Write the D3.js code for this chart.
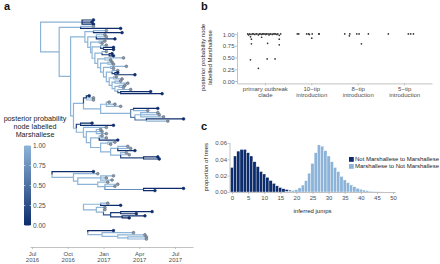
<!DOCTYPE html>
<html><head><meta charset="utf-8">
<script src="https://cdn.jsdelivr.net/npm/d3@7"></script>
<style>body{margin:0;background:#fff}svg{display:block}</style>
</head><body><svg id="c" width="440" height="264"></svg>
<script>
// ---------- DATA ----------
// Trees: node = [date (decimal year), posterior prob. Marshallese, ...children]; tip = [date, prob]
const cladeC =
[2016.87,1,
 [2016.93,1,[2017.02,1],[2017.13,0]],
 [2016.89,1,
  [2016.95,1,[2017.01,1],[2017.02,1],[2017.08,0]],
  [2016.91,1,
   [2016.97,1,[2017.01,1],[2016.99,1]],
   [2016.92,1,
    [2016.98,1,[2017.02,1],[2017.00,0.3,[2017.07,0],[2017.07,0]]],
    [2016.94,1,
     [2016.99,1,[2017.02,1],[2017.04,0.1,[2017.06,0],[2017.07,0]]],
     [2016.96,1,
      [2017.01,1,[2017.14,1],[2017.05,1]],
      [2016.98,1,
       [2017.03,1,[2017.06,1],[2017.07,1]],
       [2017.00,1,
        [2017.05,1,[2017.16,1],[2017.07,1]],
        [2017.02,1,
         [2017.06,1,[2017.10,1],[2017.08,0.2,[2017.10,0],[2017.22,0]]],
         [2017.04,1,
          [2017.07,1,[2017.09,1],[2017.13,1]],
          [2017.06,1,
           [2017.08,1,[2017.12,1],[2017.17,1]],
           [2017.08,1,
            [2017.11,1,[2017.15,1],[2017.14,1]],
            [2017.10,1,[2017.19,1],[2017.12,0.3,[2017.33,0],[2017.41,0]]]
           ]
          ]
         ]
        ]
       ]
      ]
     ]
    ]
   ]
  ]
 ]
];
const cladeD = [2016.86,1,
  [2016.88,0.2,[2016.90,0],[2016.93,1],[2016.93,1]],
  [2016.98,1,
    [2017.02,1,[2017.04,1],[2017.08,1],[2017.12,1]],
    [2017.19,1,
      [2017.21,0.6,[2017.38,0],[2017.31,1]],
      [2017.22,0.6,
        [2017.26,1,[2017.38,1],[2017.39,1],[2017.42,1]],
        [2017.30,0.5,[2017.56,0],[2017.45,1]]
      ]
    ]
  ]
];
const cladeE = [2016.81,1,
  [2016.84,0.1,[2016.92,0],[2017.07,0]],
  [2016.86,1,[2017.02,1],
    [2016.88,1,
      [2016.95,1,[2016.98,1],[2016.99,1],[2017.02,1]],
      [2016.91,1,
        [2016.97,1,[2016.99,1],[2017.02,1],[2017.10,0]],
        [2016.98,1,
          [2017.03,1,[2017.08,1],[2017.05,1]],
          [2017.05,1,
            [2017.10,1,[2017.17,1],[2017.19,1],[2017.22,0]],
            [2017.12,1,[2017.16,1],[2017.18,1],[2017.28,0.2,[2017.38,0],[2017.39,0]]]
          ]
        ]
      ]
    ]
  ]
];
const mainTree = [2016.56,1,
  [2016.85,1,[2016.93,0],[2016.92,0],[2016.93,0]],
  [2016.69,1,
    [2016.84,1,[2016.93,1],[2017.12,0]],
    [2016.77,1, cladeC, [2016.79,1, cladeD, cladeE]]
  ]
];
const tree10 = [2016.64,1,
  [2016.93,0],
  [2016.79,1,
    [2016.96,1],
    [2016.82,1,
      [2016.98,1,[2017.07,1],[2017.02,1],[2017.06,1]],
      [2016.96,1,
        [2017.03,1],
        [2017.01,1,[2017.10,1],[2017.08,1],[2017.28,0.7,[2017.56,0],[2017.36,0]]]
      ]
    ]
  ]
];
const tree8 = [2016.86,1,
  [2016.98,1,[2017.03,1],[2017.12,0]],
  [2016.95,1,[2017.01,1],
    [2017.00,1,[2017.01,1],
      [2017.05,0.3,
        [2017.12,0.1,[2017.34,0],[2017.23,0]],
        [2017.13,0.1,[2017.29,0],[2017.18,0]]
      ]
    ]
  ]
];
const tree5 = [2016.89,1,
  [2017.07,0],
  [2016.99,1,[2017.21,1],
    [2017.10,1,[2017.29,1],
      [2017.17,1,[2017.30,1],[2017.30,1]]
    ]
  ]
];

const dateTicks = [2016.5, 2016.75, 2017.0, 2017.25, 2017.5];
const dateTickLabels = [["Jul","2016"],["Oct","2016"],["Jan","2017"],["Apr","2017"],["Jul","2017"]];
const probTicks = [0, 0.25, 0.5, 0.75, 1];

// Panel b
const bCategories = ["primary outbreak clade","10−tip introduction","8−tip introduction","5−tip introduction"];
const bCatLabels = [["primary outbreak","clade"],["10−tip","introduction"],["8−tip","introduction"],["5−tip","introduction"]];
const primaryJitter = [-0.37,-0.35,-0.33,-0.30,-0.27,-0.25,-0.22,-0.19,-0.17,-0.14,-0.12,-0.10,-0.07,-0.05,-0.03,0.00,0.02,0.04,0.07,0.09,0.11,0.13,0.16,0.18,0.21,0.23,0.26,0.28,0.31,0.34,
  -0.31,-0.29,-0.29,-0.31,-0.14,-0.07,0.06,0.05,0.22,0.31,0.31];
const primaryProb = [1.00,0.98,1.00,0.99,1.00,1.00,0.99,1.00,1.00,0.98,1.00,1.00,0.99,1.00,1.00,1.00,0.99,1.00,1.00,0.98,1.00,1.00,0.99,1.00,1.00,1.00,0.99,1.00,0.97,1.00,
  0.94,0.89,0.79,0.45,0.27,0.93,0.80,0.47,0.47,0.89,0.77];
const intro10Jitter = [-0.30,-0.27,-0.10,-0.06,-0.04,0.02,0.01,0.16,0.17];
const intro10Prob = [1,1,1,1,0.99,1,0.91,1,1];
const intro8Jitter = [-0.28,-0.18,-0.17,-0.02,0.03,0.08,0.23];
const intro8Prob = [1,0.96,1,1,1,0.79,1];
const intro5Jitter = [-0.34,0.09,0.14,0.20];
const intro5Prob = [1,1,1,1];

// Panel c
const jumpsNotToM = [0,1,2,3,4,5,6,7,8,9,10,11,12,13,14,15,16,17,18,19,20,21,22];
const propNotToM = [0.030,0.044,0.050,0.052,0.052,0.048,0.044,0.037,0.031,0.025,0.022,0.018,0.014,0.0105,0.0075,0.0055,0.004,0.003,0.0022,0.0015,0.001,0.0006,0.0003];
const jumpsMToNot = [17,18,19,20,21,22,23,24,25,26,27,28,29,30,31,32,33,34,35,36,37,38,39,40,41,42,43,44,45,46,47];
const propMToNot = [0.0004,0.0008,0.0015,0.0028,0.0050,0.0085,0.0138,0.023,0.035,0.048,0.0575,0.056,0.0505,0.044,0.037,0.030,0.025,0.019,0.0147,0.0114,0.0086,0.0065,0.0045,0.0033,0.0024,0.0016,0.001,0.0007,0.0004,0.0002,0.0001];
const jumpTicks = [0,5,10,15,20,25,30,35,40,45,50];
const propTicks = [0,0.02,0.04,0.06];
const legendLabels = ["Not Marshallese to Marshallese","Marshallese to Not Marshallese"];

// ---------- STYLE ----------
const FONT = "'Liberation Sans', Arial, Helvetica, sans-serif";
const colLight = "#8db4d8", colDark = "#0d2c6b";
const tickCol = "#4d4d4d", axisCol = "#b3b3b3", titleCol = "#222";
const svg = d3.select("#c").style("font-family", FONT);
const pCol = d3.scaleLinear().domain([0,1]).range([colDark, colLight]).interpolate(d3.interpolateRgb);

function styleAxis(g, fs){
  g.attr("font-family", FONT).attr("font-size", fs);
  g.select(".domain").attr("stroke", axisCol).attr("stroke-width", 0.8);
  g.selectAll(".tick line").attr("stroke", axisCol).attr("stroke-width", 0.8);
  g.selectAll(".tick text").attr("fill", tickCol);
}

// ---------- PANEL A ----------
const xT = d3.scaleLinear().domain([2016.486, 2017.626]).range([30, 193]);
let slot = 0;
const roots = [mainTree, tree10, tree8, tree5].map(t => {
  const r = d3.hierarchy(t, d => d.length > 2 ? d.slice(2) : null);
  r.leaves().forEach(l => { l.slot = slot++; });
  slot += 5;
  return r;
});
const yT = d3.scaleLinear().domain([0, slot - 6]).range([20, 239]);
const gTree = svg.append("g");
const allLinks = [], allTips = [];
roots.forEach(r => {
  r.eachAfter(n => {
    n.px = xT(n.data[0]);
    n.py = n.children ? d3.mean(n.children, c => c.py) : yT(n.slot);
  });
  r.descendants().forEach(n => { if (n.parent) allLinks.push(n); });
  r.leaves().forEach(l => allTips.push(l));
});
allLinks.sort((a,b) => b.data[1] - a.data[1]);
gTree.selectAll("path.br").data(allLinks).join("path").attr("class","br")
  .attr("d", n => `M${n.parent.px},${n.parent.py}V${n.py}H${n.px}`)
  .attr("fill","none").attr("stroke", n => pCol(n.data[1])).attr("stroke-width", 1.2);
gTree.selectAll("circle.tip").data(allTips).join("circle").attr("class","tip")
  .attr("cx", n => n.px).attr("cy", n => n.py).attr("r", 1.4)
  .attr("fill", n => n.data[1] < 0.5 ? colDark : "#8e99a8")
  .attr("stroke", n => n.data[1] < 0.5 ? colDark : "#4f5b6b").attr("stroke-width", 0.5);

const axA = svg.append("g").attr("transform","translate(0,247)")
  .call(d3.axisBottom(xT).tickValues(dateTicks).tickSize(2).tickSizeOuter(0).tickFormat(""));
styleAxis(axA, 6);
axA.selectAll(".tick").each(function(d,i){
  const t = d3.select(this).append("text").attr("fill", tickCol).attr("text-anchor","middle").attr("font-size",6);
  t.append("tspan").attr("x",0).attr("y",8.5).text(dateTickLabels[i][0]);
  t.append("tspan").attr("x",0).attr("y",15).text(dateTickLabels[i][1]);
});

// colour bar
const cb = d3.scaleLinear().domain([0,1]).range([225.5,145.5]);
const grad = svg.append("defs").append("linearGradient").attr("id","cbg")
  .attr("x1",0).attr("y1",1).attr("x2",0).attr("y2",0);
grad.selectAll("stop").data(probTicks).join("stop")
  .attr("offset", d => d).attr("stop-color", d => pCol(d));
svg.append("rect").attr("x",24).attr("y",cb(1)).attr("width",7).attr("height",cb(0)-cb(1)).attr("fill","url(#cbg)");
const cbG = svg.append("g");
cbG.selectAll("line.l").data(probTicks).join("line").attr("class","l")
  .attr("x1",24).attr("x2",25.4).attr("y1",d=>cb(d)).attr("y2",d=>cb(d)).attr("stroke","#fff").attr("stroke-width",0.6);
cbG.selectAll("line.r").data(probTicks).join("line").attr("class","r")
  .attr("x1",29.6).attr("x2",31).attr("y1",d=>cb(d)).attr("y2",d=>cb(d)).attr("stroke","#fff").attr("stroke-width",0.6);
cbG.selectAll("text").data(probTicks).join("text")
  .attr("x",33).attr("y",d=>cb(d)+2.3).attr("font-size",6.5).attr("fill",tickCol).text(d=>d3.format(".2f")(d));
const cbTitle = svg.append("text").attr("font-size",7.2).attr("fill",titleCol).attr("text-anchor","middle");
["posterior probability","node labelled","Marshallese"].forEach((s,i)=>
  cbTitle.append("tspan").attr("x",35).attr("y",120.5+i*8).text(s));

// ---------- PANEL B ----------
const xB = d3.scalePoint().domain(bCategories).range([237,432]).padding(0.6);
const yB = d3.scaleLinear().domain([-0.05,1.05]).range([83.4,31.6]);
const stepB = xB.step();
const axBx = svg.append("g").attr("transform",`translate(0,${yB(-0.05)})`)
  .call(d3.axisBottom(xB).tickSize(2).tickSizeOuter(0).tickFormat(""));
styleAxis(axBx, 6);
axBx.selectAll(".tick").each(function(d,i){
  const t = d3.select(this).append("text").attr("fill", tickCol).attr("text-anchor","middle").attr("font-size",6);
  t.append("tspan").attr("x",0).attr("y",7.2).text(bCatLabels[i][0]);
  t.append("tspan").attr("x",0).attr("y",13.4).text(bCatLabels[i][1]);
});
const axBy = svg.append("g").attr("transform",`translate(${237},0)`)
  .call(d3.axisLeft(yB).tickValues(probTicks).tickSize(2).tickSizeOuter(0).tickFormat(d3.format(".2f")));
styleAxis(axBy, 6);
axBy.selectAll(".tick text").attr("x",-2.5).attr("dy","0.34em");
const bSets = [[primaryJitter,primaryProb],[intro10Jitter,intro10Prob],[intro8Jitter,intro8Prob],[intro5Jitter,intro5Prob]];
bSets.forEach((s,ci)=>{
  const pts = s[0].map((j,k)=>({j, v:s[1][k]}));
  svg.append("g").selectAll("circle").data(pts).join("circle")
    .attr("cx", p => xB(bCategories[ci]) + p.j*stepB).attr("cy", p => yB(p.v))
    .attr("r",0.85).attr("fill","#333");
});
const bTitle = svg.append("text").attr("transform",`translate(205,${(yB(-0.05)+yB(1.05))/2}) rotate(-90)`)
  .attr("text-anchor","middle").attr("font-size",6).attr("fill",titleCol);
bTitle.append("tspan").attr("x",0).attr("y",0).text("posterior probability node");
bTitle.append("tspan").attr("x",0).attr("y",7).text("labelled Marshallese");

// ---------- PANEL C ----------
const xC = d3.scaleLinear().domain([-0.6,50.6]).range([230,395]);
const yC = d3.scaleLinear().domain([0,0.0605]).range([192,142.5]);
const drawBars = (js, ps, col) => svg.append("g").selectAll("rect").data(js.map((j,k)=>({j,p:ps[k]}))).join("rect")
  .attr("x", d => xC(d.j-0.5)).attr("width", d => xC(d.j+0.5)-xC(d.j-0.5))
  .attr("y", d => yC(d.p)).attr("height", d => yC(0)-yC(d.p))
  .attr("fill", col).attr("stroke","#fff").attr("stroke-width",0.35);
drawBars(jumpsNotToM, propNotToM, colDark);
drawBars(jumpsMToNot, propMToNot, colLight);
const axCx = svg.append("g").attr("transform",`translate(0,${yC(0)})`)
  .call(d3.axisBottom(xC).tickValues(jumpTicks).tickSize(2).tickSizeOuter(0));
styleAxis(axCx, 6);
axCx.selectAll(".tick text").attr("y",3.5);
const axCy = svg.append("g").attr("transform",`translate(229.5,0)`)
  .call(d3.axisLeft(yC).tickValues(propTicks).tickSize(2).tickSizeOuter(0).tickFormat(d3.format(".2f")));
styleAxis(axCy, 6);
axCy.selectAll(".tick text").attr("x",-2.5);
svg.append("text").attr("x",xC(25)).attr("y",213).attr("text-anchor","middle").attr("font-size",6).attr("fill",titleCol).text("inferred jumps");
svg.append("text").attr("transform",`translate(208,${(yC(0)+yC(0.0605))/2}) rotate(-90)`)
  .attr("text-anchor","middle").attr("font-size",6).attr("fill",titleCol).text("proportion of trees");
const leg = svg.append("g").attr("transform","translate(349,157)");
leg.selectAll("rect").data(legendLabels).join("rect")
  .attr("x",0).attr("y",(d,i)=>i*7).attr("width",4.8).attr("height",4.8)
  .attr("fill",(d,i)=> i===0 ? colDark : colLight);
leg.selectAll("text").data(legendLabels).join("text")
  .attr("x",6).attr("y",(d,i)=>i*7+4.4).attr("font-size",6).attr("fill",titleCol).text(d=>d);

// ---------- PANEL LETTERS ----------
[["a",4,10],["b",201,10],["c",201,130]].forEach(([t,x,y])=>
  svg.append("text").attr("x",x).attr("y",y).attr("font-size",11).attr("font-weight","bold").attr("fill","#111").text(t));
</script></body></html>
